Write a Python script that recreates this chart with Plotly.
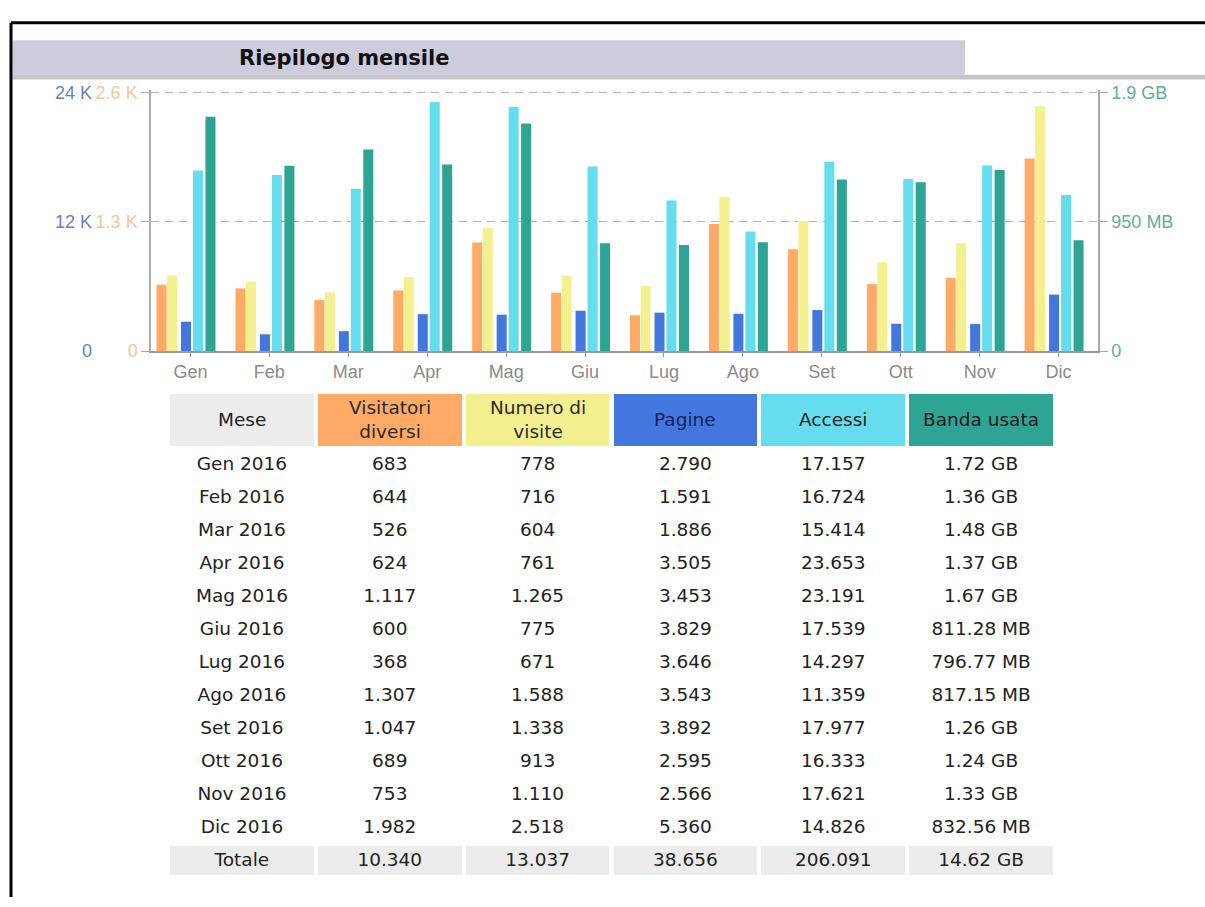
import plotly.graph_objects as go

# ---------------- data ----------------
months = ["Gen", "Feb", "Mar", "Apr", "Mag", "Giu", "Lug", "Ago", "Set", "Ott", "Nov", "Dic"]
year = "2016"
visitors = [683, 644, 526, 624, 1117, 600, 368, 1307, 1047, 689, 753, 1982]
visits = [778, 716, 604, 761, 1265, 775, 671, 1588, 1338, 913, 1110, 2518]
pages = [2790, 1591, 1886, 3505, 3453, 3829, 3646, 3543, 3892, 2595, 2566, 5360]
hits = [17157, 16724, 15414, 23653, 23191, 17539, 14297, 11359, 17977, 16333, 17621, 14826]
bandwidth = ["1.72 GB", "1.36 GB", "1.48 GB", "1.37 GB", "1.67 GB", "811.28 MB",
             "796.77 MB", "817.15 MB", "1.26 GB", "1.24 GB", "1.33 GB", "832.56 MB"]
bandwidth_total = "14.62 GB"

headers = ["Mese", "Visitatori<br>diversi", "Numero di<br>visite", "Pagine", "Accessi", "Banda usata"]
total_label = "Totale"

# axis tick values (K = 1024 units, bandwidth in GB)
vis_ticks = [0, 1.3, 2.6]
vis_ticktext = ["0", "1.3 K", "2.6 K"]
hit_ticks = [0, 12, 24]
hit_ticktext = ["0", "12 K", "24 K"]
bw_ticks = [0, 0.95, 1.9]
bw_ticktext = ["0", "950 MB", "1.9 GB"]

# ---------------- helpers ----------------
W, H = 1205, 907


def px_x(x):
    return x / W


def px_y(y):
    return 1 - y / H


def to_gb(s):
    v, u = s.split()
    v = float(v)
    return v if u == "GB" else v / 1024.0


def it_num(v):
    return f"{v:,}".replace(",", ".")


bw_gb = [to_gb(s) for s in bandwidth]

C_U = "#FFAA66"
C_V = "#F4F090"
C_P = "#4477DD"
C_H = "#66DDEE"
C_K = "#2EA495"

fig = go.Figure()

bar_w = 0.127
series = [
    ([v / 1024 for v in visitors], "y", C_U, -0.430),
    ([v / 1024 for v in visits], "y", C_V, -0.297),
    ([v / 1024 for v in pages], "y2", C_P, -0.120),
    ([v / 1024 for v in hits], "y2", C_H, 0.032),
    (bw_gb, "y3", C_K, 0.190),
]
for vals, ax, col, off in series:
    fig.add_trace(go.Bar(x=months, y=vals, yaxis=ax, marker=dict(color=col, line=dict(width=0)),
                         offset=off, width=bar_w, showlegend=False, hoverinfo="skip"))

axis_font = "Liberation Sans, Arial, sans-serif"
table_font = "DejaVu Sans, Verdana, sans-serif"

# plot area: zero at y=350px, top tick at y=86px; extend 2px above so the top grid line is kept
y_zero, y_top, extra = 350, 86, 2
f = (y_zero - y_top + extra) / (y_zero - y_top)
ydom = [px_y(y_zero), px_y(y_top - extra)]

fig.update_layout(
    width=W, height=H,
    margin=dict(l=0, r=0, t=0, b=0),
    paper_bgcolor="white", plot_bgcolor="white",
    barmode="overlay",
    showlegend=False,
    xaxis=dict(domain=[px_x(151), px_x(1098)], range=[-0.5, 11.5], type="category",
               showline=True, linecolor="#9a9a9a", linewidth=1.5,
               ticks="outside", ticklen=4, tickcolor="#9a9a9a",
               tickfont=dict(family=axis_font, size=18, color="#8a8a8a"),
               showgrid=False, zeroline=False, fixedrange=True),
    yaxis=dict(domain=ydom, range=[0, vis_ticks[-1] * f], tickvals=vis_ticks, ticktext=vis_ticktext,
               showline=True, linecolor="#aaaaaa", linewidth=1.5,
               ticks="outside", ticklen=8, tickcolor="#aaaaaa",
               tickfont=dict(family=axis_font, size=18, color="#F2C6A0"),
               showgrid=True, gridcolor="#b0b0b0", gridwidth=1, griddash="8px,6px",
               zeroline=False, fixedrange=True),
    yaxis2=dict(domain=ydom, range=[0, hit_ticks[-1] * f], tickvals=hit_ticks, ticktext=hit_ticktext,
                overlaying="y", anchor="free", side="left", position=px_x(92),
                showline=False, ticks="", showgrid=False, zeroline=False,
                tickfont=dict(family=axis_font, size=18, color="#6683B8"), fixedrange=True),
    yaxis3=dict(domain=ydom, range=[0, bw_ticks[-1] * f], tickvals=bw_ticks, ticktext=bw_ticktext,
                overlaying="y", anchor="x", side="right",
                showline=True, linecolor="#aaaaaa", linewidth=1.5,
                ticks="outside", ticklen=8, tickcolor="#aaaaaa",
                showgrid=False, zeroline=False,
                tickfont=dict(family=axis_font, size=18, color="#5FAE9E"), fixedrange=True),
)

# frame (top and left edges), title bar
fig.add_shape(type="line", xref="paper", yref="paper",
              x0=px_x(11), x1=1, y0=px_y(15), y1=px_y(15), line=dict(color="black", width=3))
fig.add_shape(type="line", xref="paper", yref="paper",
              x0=px_x(11), x1=px_x(11), y0=px_y(15), y1=0, line=dict(color="black", width=3))
fig.add_shape(type="rect", xref="paper", yref="paper",
              x0=px_x(12.5), x1=1, y0=px_y(73), y1=px_y(68),
              line=dict(width=0), fillcolor="#C6C6CA", layer="below")
fig.add_shape(type="rect", xref="paper", yref="paper",
              x0=px_x(12.5), x1=px_x(965), y0=px_y(68), y1=px_y(33),
              line=dict(width=0), fillcolor="#CCCCDD", layer="below")
fig.add_annotation(text="Riepilogo mensile", xref="paper", yref="paper",
                   x=px_x(237), y=px_y(51), xanchor="left", yanchor="middle", showarrow=False,
                   font=dict(family=table_font, size=21, color="#111111", weight="bold"))

# ---------------- table ----------------
col_mese = [f"{m} {year}" for m in months] + [total_label]
col_u = [it_num(v) for v in visitors] + [it_num(sum(visitors))]
col_v = [it_num(v) for v in visits] + [it_num(sum(visits))]
col_p = [it_num(v) for v in pages] + [it_num(sum(pages))]
col_h = [it_num(v) for v in hits] + [it_num(sum(hits))]
col_k = bandwidth + [bandwidth_total]
n = len(col_mese)
row_fill = ["white"] * (n - 1) + ["#ECECEC"]

tbl_x0, tbl_x1, tbl_top, head_h, row_h = 168, 1055, 392, 56, 33
head_fill = ["#ECECEC", C_U, C_V, C_P, C_H, C_K]
head_col = ["#222222", "#2a2a2a", "#2a2a2a", "#13215a", "#222222", "#1a1a1a"]

fig.add_trace(go.Table(
    domain=dict(x=[px_x(tbl_x0), px_x(tbl_x1)], y=[0, px_y(tbl_top)]),
    columnwidth=[1] * 6,
    header=dict(values=[""] * 6,
                fill_color=head_fill,
                line=dict(color="white", width=4),
                align="center", height=head_h,
                font=dict(family=table_font, size=18.5)),
    cells=dict(values=[col_mese, col_u, col_v, col_p, col_h, col_k],
               fill_color=[row_fill] * 6,
               line=dict(color="white", width=4),
               align="center", height=row_h,
               font=dict(family=table_font, size=18.5, color="#222222")),
))

# header labels, vertically centred in each header cell
col_w = (tbl_x1 - tbl_x0) / 6
for i, (txt, c) in enumerate(zip(headers, head_col)):
    fig.add_annotation(text=txt, xref="paper", yref="paper",
                       x=px_x(tbl_x0 + col_w * (i + 0.5)), y=px_y(tbl_top + head_h / 2),
                       xanchor="center", yanchor="middle", align="center", showarrow=False,
                       font=dict(family=table_font, size=18.5, color=c))

fig.write_html("out.html", config={"displayModeBar": False},
               post_script="document.body.style.margin='0';")
